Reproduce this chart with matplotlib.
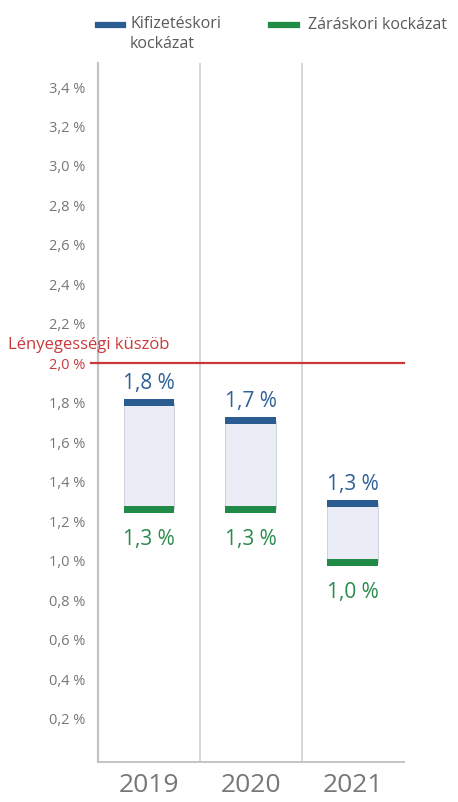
import numpy as np
import matplotlib.pyplot as plt
from matplotlib.lines import Line2D

plt.rcParams['font.family'] = ['Open Sans', 'DejaVu Sans']

# Data
years = ['2019', '2020', '2021']
payout_risk = [1.80, 1.71, 1.29]    # Kifizetéskori kockázat (upper band)
closing_risk = [1.26, 1.26, 0.99]   # Záráskori kockázat (lower band)
payout_labels = ['1,8 %', '1,7 %', '1,3 %']
closing_labels = ['1,3 %', '1,3 %', '1,0 %']
threshold = 2.0
yticks = [0.2, 0.4, 0.6, 0.8, 1.0, 1.2, 1.4, 1.6, 1.8, 2.0, 2.2, 2.4, 2.6, 2.8, 3.0, 3.2, 3.4]

BLUE = '#2b5c91'
GREEN = '#1f8b47'
RED = '#c9393c'
GRAY = '#777777'
GRID = '#cfcfcf'

fig = plt.figure(figsize=(4.58, 8.02), dpi=100)
ax = fig.add_axes([0.214, 0.050, 0.668, 0.871])

x = np.arange(len(years)) + 0.5
width = 0.5
band = 0.036

# light box between the two risks
ax.bar(x, np.array(payout_risk) - np.array(closing_risk), bottom=closing_risk,
       width=width, color='#eaedf6', edgecolor='#c9ccd6', linewidth=0.6, zorder=2)
# thick coloured edges
ax.bar(x, band, bottom=np.array(payout_risk) - band / 2, width=width,
       color=BLUE, linewidth=0, zorder=3)
ax.bar(x, band, bottom=np.array(closing_risk) - band / 2, width=width,
       color=GREEN, linewidth=0, zorder=3)

for xi, v, lab in zip(x, payout_risk, payout_labels):
    ax.annotate(lab, (xi, v), xytext=(0, 6), textcoords='offset points',
                ha='center', va='bottom', color='#2f6097', fontsize=15)
for xi, v, lab in zip(x, closing_risk, closing_labels):
    ax.annotate(lab, (xi, v), xytext=(0, -14), textcoords='offset points',
                ha='center', va='top', color='#2a8a4d', fontsize=15)

# threshold line
ax.plot([-0.07, len(years)], [threshold, threshold], color=RED, lw=1.6,
        clip_on=False, zorder=4)
ax.text(-0.88, threshold + 0.05, 'Lényegességi küszöb', color=RED,
        fontsize=12, ha='left', va='bottom')

ax.set_xlim(0, len(years))
ax.set_ylim(-0.02, 3.52)

# vertical separators
for xv in range(1, len(years)):
    ax.axvline(xv, color=GRID, lw=1.2, zorder=1)

ax.set_yticks(yticks)
ax.set_yticklabels([f'{t:.1f} %'.replace('.', ',') for t in yticks])
ax.tick_params(axis='y', length=0, pad=9, labelsize=10.5, labelcolor=GRAY)
for t, lab in zip(yticks, ax.get_yticklabels()):
    if abs(t - threshold) < 1e-9:
        lab.set_color(RED)

ax.set_xticks(x)
ax.set_xticklabels(years)
ax.tick_params(axis='x', length=0, pad=8, labelsize=19, labelcolor=GRAY)

for s in ['top', 'right']:
    ax.spines[s].set_visible(False)
ax.spines['left'].set_color('#c4c4c4')
ax.spines['left'].set_linewidth(1.6)
ax.spines['bottom'].set_color('#c4c4c4')
ax.spines['bottom'].set_linewidth(1.4)

# legend
fig.add_artist(Line2D([98 / 458, 123 / 458], [1 - 25 / 802] * 2, color=BLUE, lw=4.5))
fig.text(130 / 458, 1 - 16 / 802, 'Kifizetéskori\nkockázat', color='#595959',
         fontsize=11.5, ha='left', va='top', linespacing=1.3)
fig.add_artist(Line2D([271 / 458, 297 / 458], [1 - 25 / 802] * 2, color=GREEN, lw=4.5))
fig.text(308 / 458, 1 - 25 / 802, 'Záráskori kockázat', color='#595959',
         fontsize=11.5, ha='left', va='center')

fig.savefig('out.png', dpi=100)
